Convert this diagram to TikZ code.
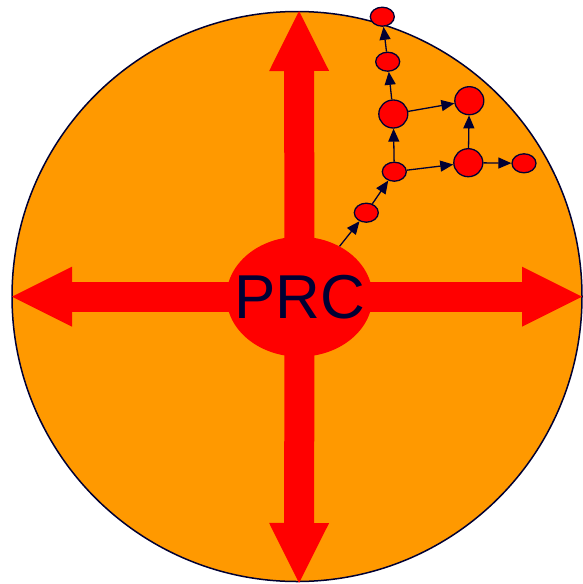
\documentclass[tikz,border=0pt]{standalone}
\usepackage{fontspec}
\setmainfont{Liberation Sans}
\usetikzlibrary{arrows.meta,shapes.geometric}
\definecolor{prcorange}{HTML}{FF9900}
\definecolor{prcred}{HTML}{FF0000}
\definecolor{prcnavy}{HTML}{000033}
\tikzset{
  disc-area/.style={circle, draw=prcnavy, fill=prcorange, line width=1.5pt, inner sep=0pt, minimum size=570pt},
  prc-core/.style={ellipse, fill=prcred, inner sep=0pt, minimum width=146pt, minimum height=120pt},
  prc-text/.style={text=prcnavy, inner sep=0pt, font=\fontsize{62}{62}\selectfont},
  spread/.style={prcred, line width=30pt, -{Triangle[length=60pt 0 0, width=60pt 0 0, line width=0pt]}},
  small-cell/.style={ellipse, draw=prcnavy, fill=prcred, line width=1.3pt, inner sep=0pt,
    minimum width=24pt, minimum height=19pt},
  big-cell/.style={small-cell, minimum width=29pt, minimum height=28pt},
  link/.style={draw=prcnavy, line width=1.3pt, -{Triangle[length=13pt 0 0, width=11pt 0 0]}}
}
\begin{document}
\begin{tikzpicture}[x=1pt, y=-1pt]
  \useasboundingbox (0,0) rectangle (582,584);
  % Background disc
  \node[disc-area] (disc) at (297,296.5) {};

  % Four spreading arrows
  \coordinate (hub) at (299.5,296.7);
  \coordinate (tipN) at (299,11);
  \coordinate (tipS) at (299,583);
  \coordinate (tipW) at (12,296.7);
  \coordinate (tipE) at (582,296.7);
  \draw[spread] (hub) -- (tipN);
  \draw[spread] (hub) -- (tipS);
  \draw[spread] (hub) -- (tipW);
  \draw[spread] (hub) -- (tipE);

  % Centre
  \node[prc-core, label={[prc-text]center:PRC}] (prc) at (hub) {};

  % Branching cells
  \node[small-cell] (s1) at (366.3,212.7) {};
  \node[small-cell] (s2) at (394.3,171.7) {};
  \node[big-cell]   (b1) at (393.3,114) {};
  \node[small-cell] (s3) at (387.7,61.7) {};
  \node[small-cell] (s4) at (382.3,16.7) {};
  \node[big-cell]   (b2) at (469.3,100.7) {};
  \node[big-cell]   (b3) at (468.3,162.7) {};
  \node[small-cell] (s5) at (524,163.3) {};

  \draw[link] (prc) -- (s1);
  \draw[link] (s1) -- (s2);
  \draw[link] (s2) -- (b1);
  \draw[link] (s2) -- (b3);
  \draw[link] (b1) -- (s3);
  \draw[link] (s3) -- (s4);
  \draw[link] (b1) -- (b2);
  \draw[link] (b3) -- (b2);
  \draw[link] (b3) -- (s5);
\end{tikzpicture}
\end{document}
